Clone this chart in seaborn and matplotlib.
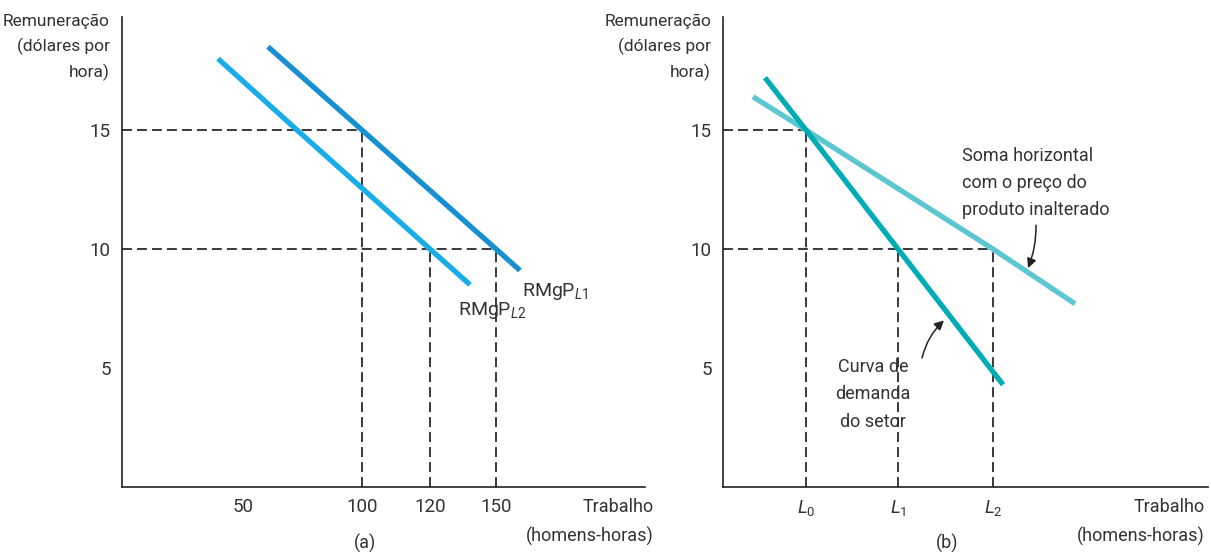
import matplotlib
matplotlib.use("Agg")
import matplotlib.pyplot as plt
import seaborn as sns

# wage axis (dollars per hour)
wage_ticks = [5, 10, 15]
wage_high = 15
wage_low = 10

# panel (a): labour ticks (schematic positions along the axis)
labor_labels_a = ["50", "100", "120", "150"]
labor_pos_a = [12.1, 24.0, 30.8, 37.4]

# RMgP curves, panel (a)
mrp1_x = [14.6, 24.0, 37.4, 39.8]
mrp1_y = [18.5, 15.0, 10.0, 9.1]
mrp2_x = [9.6, 17.5, 30.8, 34.8]
mrp2_y = [18.0, 15.0, 10.0, 8.5]

# panel (b): labour ticks
labor_labels_b = ["$L_0$", "$L_1$", "$L_2$"]
labor_pos_b = [8.3, 17.5, 27.0]

# industry demand and horizontal sum, panel (b)
demand_x = [4.2, 8.3, 17.5, 28.0]
demand_y = [17.2, 15.0, 10.0, 4.3]
hsum_x = [3.0, 8.3, 27.0, 35.2]
hsum_y = [16.4, 15.0, 10.0, 7.7]

W, H = 1211, 552

sns.set_theme(style="white")
plt.rcParams["font.family"] = ["Roboto", "DejaVu Sans"]
plt.rcParams["mathtext.fontset"] = "custom"
plt.rcParams["mathtext.rm"] = "Roboto"
plt.rcParams["mathtext.it"] = "Roboto:italic"

FS = 13
TXT = "#333333"
DASH = dict(color="#2a2a2a", lw=1.3, linestyle=(0, (5.5, 2.8)))


def px(x, y):
    return x / W, 1 - y / H


def setup_axis(ax, xmax, pos, labels):
    ax.set_xlim(0, xmax)
    ax.set_ylim(0, 19.75)
    for s in ["top", "right"]:
        ax.spines[s].set_visible(False)
    for s in ["left", "bottom"]:
        ax.spines[s].set_color("#222222")
        ax.spines[s].set_linewidth(1.2)
    ax.set_xticks(pos)
    ax.set_xticklabels(labels)
    ax.set_yticks(wage_ticks)
    ax.set_yticklabels([str(v) for v in wage_ticks])
    ax.tick_params(axis="both", direction="in", length=9, width=1.1,
                   color="#222222", labelsize=FS + 0.5, labelcolor=TXT)
    ax.tick_params(axis="y", pad=8)
    ax.tick_params(axis="x", pad=8)
    ax.set_xlabel("")
    ax.set_ylabel("")
    ax.grid(False)


fig = plt.figure(figsize=(W / 100, H / 100), dpi=100)
ax_a = fig.add_axes([122 / W, (H - 487) / H, (645 - 122) / W, 470 / H])
ax_b = fig.add_axes([723 / W, (H - 487) / H, (1208 - 723) / W, 470 / H])

# ---- panel (a)
setup_axis(ax_a, 52.3, labor_pos_a, labor_labels_a)
ax_a.hlines(wage_high, 0, labor_pos_a[1], **DASH)
ax_a.hlines(wage_low, 0, labor_pos_a[3], **DASH)
ax_a.vlines(labor_pos_a[1], 0, wage_high, **DASH)
ax_a.vlines(labor_pos_a[2], 0, wage_low, **DASH)
ax_a.vlines(labor_pos_a[3], 0, wage_low, **DASH)

sns.lineplot(x=mrp2_x, y=mrp2_y, ax=ax_a, color="#18ade6", lw=3.8,
             solid_capstyle="butt", sort=False)
sns.lineplot(x=mrp1_x, y=mrp1_y, ax=ax_a, color="#1790d2", lw=3.8,
             solid_capstyle="butt", sort=False)
ax_a.text(40.0, 8.2, "RMgP$_{L1}$", fontsize=FS + 1, color=TXT, ha="left", va="center")
ax_a.text(33.6, 7.4, "RMgP$_{L2}$", fontsize=FS + 1, color=TXT, ha="left", va="center")

# ---- panel (b)
setup_axis(ax_b, 48.5, labor_pos_b, labor_labels_b)
ax_b.hlines(wage_high, 0, labor_pos_b[0], **DASH)
ax_b.hlines(wage_low, 0, labor_pos_b[2], **DASH)
ax_b.vlines(labor_pos_b[0], 0, wage_high, **DASH)
ax_b.vlines(labor_pos_b[1], 0, wage_low, **DASH)
ax_b.vlines(labor_pos_b[2], 0, wage_low, **DASH)

sns.lineplot(x=hsum_x, y=hsum_y, ax=ax_b, color="#5cc7d1", lw=3.8,
             solid_capstyle="butt", sort=False)
sns.lineplot(x=demand_x, y=demand_y, ax=ax_b, color="#00adb6", lw=3.8,
             solid_capstyle="butt", sort=False)

ax_b.text(23.9, 12.77, "Soma horizontal\ncom o preço do\nproduto inalterado",
          fontsize=FS, color=TXT, ha="left", va="center", linespacing=1.62)
ax_b.annotate("", xy=(30.5, 9.2), xytext=(31.3, 11.0),
              arrowprops=dict(arrowstyle="-|>", color="#222222", lw=1.1,
                              mutation_scale=14, shrinkA=0, shrinkB=0,
                              connectionstyle="arc3,rad=-0.1"))
ax_b.text(15.0, 3.9, "Curva de\ndemanda\ndo setor", fontsize=FS, color=TXT,
          ha="center", va="center", linespacing=1.68)
ax_b.annotate("", xy=(22.1, 7.0), xytext=(19.9, 5.42),
              arrowprops=dict(arrowstyle="-|>", color="#222222", lw=1.1,
                              mutation_scale=14, shrinkA=0, shrinkB=0,
                              connectionstyle="arc3,rad=-0.15"))

# ---- axis titles outside the axes
ylab = "Remuneração\n(dólares por\nhora)"
xlab = "Trabalho\n(homens-horas)"
fig.text(*px(110, 47), ylab, fontsize=FS - 0.5, color=TXT, ha="right", va="center",
         multialignment="right", linespacing=1.65)
fig.text(*px(711, 47), ylab, fontsize=FS - 0.5, color=TXT, ha="right", va="center",
         multialignment="right", linespacing=1.65)
fig.text(*px(654, 522), xlab, fontsize=FS, color=TXT, ha="right", va="center",
         multialignment="right", linespacing=1.72)
fig.text(*px(1205, 522), xlab, fontsize=FS, color=TXT, ha="right", va="center",
         multialignment="right", linespacing=1.72)
fig.text(*px(365, 543), "(a)", fontsize=FS, color=TXT, ha="center", va="center")
fig.text(*px(947, 543), "(b)", fontsize=FS, color=TXT, ha="center", va="center")

fig.savefig("out.png", dpi=100)
plt.close(fig)
